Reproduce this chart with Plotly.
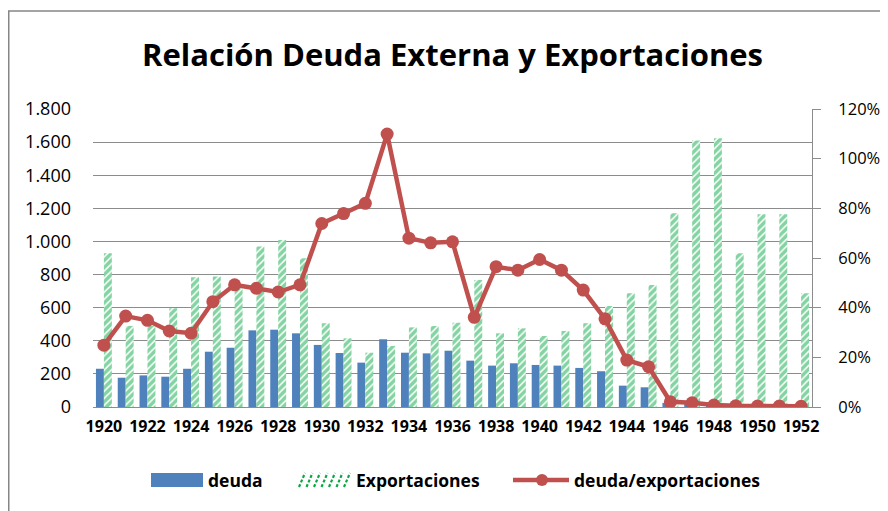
import plotly.graph_objects as go

years = list(range(1920, 1953))
deuda = [231, 177, 191, 183, 231, 334, 358, 463, 467, 445, 375, 326, 268,
         409, 328, 324, 340, 280, 250, 264, 254, 250, 236, 216, 129, 119,
         25, 27, 13, 5, 5, 5, 2]
exportaciones = [929, 490, 490, 596, 784, 788, 717, 969, 1009, 899, 506, 415, 328,
                 369, 481, 489, 509, 767, 445, 475, 429, 459, 506, 610, 687, 737,
                 1170, 1609, 1623, 929, 1164, 1164, 687]
ratio = [0.249, 0.366, 0.349, 0.306, 0.297, 0.424, 0.492, 0.478, 0.463, 0.492,
         0.739, 0.779, 0.820, 1.099, 0.680, 0.661, 0.665, 0.361, 0.565, 0.551,
         0.594, 0.551, 0.471, 0.355, 0.189, 0.162, 0.021, 0.017, 0.008, 0.005,
         0.004, 0.004, 0.003]
series_names = ["deuda", "Exportaciones", "deuda/exportaciones"]

FONT = "Open Sans"
BLUE = "#4f81bd"
GREEN = "#0aa845"
RED = "#c0504d"
GRID = "#8c8c8c"

# page offset of the figure (body margin)
OFF = 8
PL, PR, PT, PB = 93, 812, 109, 407  # plot area in page pixels


def px(x):
    return (x - PL) / (PR - PL)


def py(y):
    return (PB - y) / (PB - PT)


fig = go.Figure()
fig.add_trace(go.Bar(x=years, y=deuda, name=series_names[0], showlegend=False,
                     marker=dict(color=BLUE, line=dict(width=0))))
fig.add_trace(go.Bar(x=years, y=exportaciones, name=series_names[1], showlegend=False,
                     marker=dict(color="white", line=dict(width=0),
                                 pattern=dict(shape="/", fgcolor=GREEN, bgcolor="white",
                                              size=5, solidity=0.7))))
fig.add_trace(go.Scatter(x=years, y=ratio, name=series_names[2], yaxis="y2", showlegend=False,
                         mode="lines+markers",
                         line=dict(color=RED, width=4.5),
                         marker=dict(color=RED, size=13)))

shapes = [dict(type="rect", xref="paper", yref="paper",
               x0=px(OFF + 0.75), x1=px(900), y0=py(520), y1=py(11),
               line=dict(color="#868686", width=1.5), fillcolor="rgba(0,0,0,0)", layer="below")]
# custom legend
shapes.append(dict(type="rect", xref="paper", yref="paper", x0=px(151), x1=px(203),
                   y0=py(487), y1=py(473), line=dict(width=0), fillcolor=BLUE))
for k in range(7):
    x0 = 299 + k * 7.5
    shapes.append(dict(type="line", xref="paper", yref="paper", x0=px(x0), x1=px(x0 + 6),
                       y0=py(487), y1=py(473), line=dict(color=GREEN, width=2.2, dash="3px,2px")))
shapes.append(dict(type="line", xref="paper", yref="paper", x0=px(513), x1=px(569),
                   y0=py(480), y1=py(480), line=dict(color=RED, width=4.5)))
shapes.append(dict(type="circle", xref="paper", yref="paper", x0=px(536), x1=px(548),
                   y0=py(486), y1=py(474), line=dict(width=0), fillcolor=RED))

annotations = []
for name, xpos in zip(series_names, [206, 354, 572]):
    annotations.append(dict(text="<b>%s</b>" % name, xref="paper", yref="paper",
                            x=px(xpos), y=py(480), xanchor="left", yanchor="middle",
                            showarrow=False, font=dict(size=17.5, family=FONT, color="black")))

W, H = 888 - OFF, 511 - OFF
fig.update_layout(
    width=W, height=H,
    margin=dict(l=PL - OFF, r=888 - PR, t=PT - OFF, b=511 - PB, autoexpand=False),
    paper_bgcolor="white", plot_bgcolor="white",
    separators=",.",
    font=dict(family=FONT, color="black", size=16),
    title=dict(text="<b>Relación Deuda Externa y Exportaciones</b>",
               x=(452.5 - OFF) / W, xanchor="center",
               y=1 - (55 - OFF) / H, yanchor="middle",
               font=dict(size=31, family=FONT, color="black")),
    barmode="group", bargap=0.27, bargroupgap=0.0,
    showlegend=False,
    xaxis=dict(range=[1919.5, 1952.5], tickmode="linear", tick0=1920, dtick=2,
               tickfont=dict(size=16, family=FONT, weight="bold"), showgrid=False,
               showline=True, linecolor=GRID, linewidth=1, ticks="", zeroline=False,
               ticklabelstandoff=5, automargin=False),
    yaxis=dict(range=[0, 1800], dtick=200, tickformat=",d", showgrid=True,
               gridcolor=GRID, gridwidth=1, zeroline=False, showline=False,
               tickfont=dict(size=18, family=FONT), ticklabelstandoff=21, automargin=False),
    yaxis2=dict(range=[0, 1.2], dtick=0.2, tickformat=".0%", overlaying="y", side="right",
                showgrid=False, zeroline=False, showline=True, linecolor=GRID,
                linewidth=1, ticks="outside", ticklen=8, tickcolor=GRID,
                tickfont=dict(size=16.5, family=FONT), ticklabelstandoff=14, automargin=False),
    shapes=shapes,
    annotations=annotations,
)

fig.write_html("out.html")
